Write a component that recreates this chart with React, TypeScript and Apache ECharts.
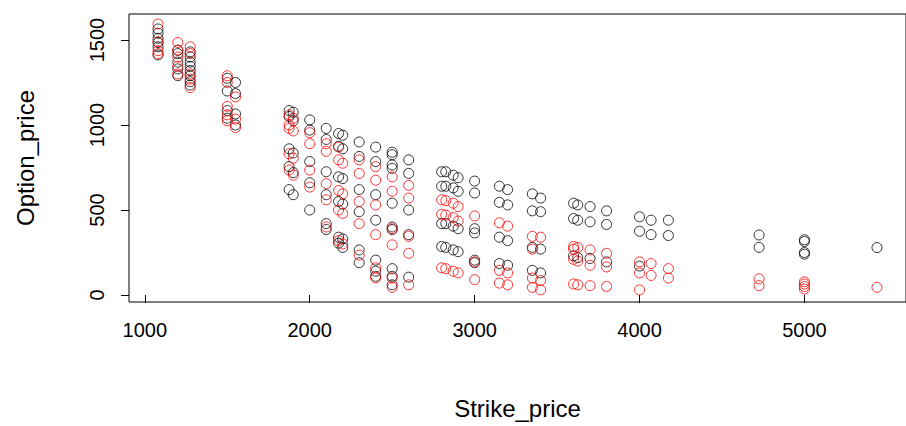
import React, { useEffect, useRef } from "react";
import * as echarts from "echarts";

// Black points: [strike, option prices at that strike]
const blackStrikes = [1080, 1200, 1275, 1500, 1550, 1875, 1900, 2000, 2100, 2175, 2200, 2300, 2400, 2500, 2600, 2800, 2825, 2870, 2900, 3000, 3150, 3200, 3350, 3400, 3600, 3625, 3700, 3800, 4000, 4070, 4175, 4725, 5000, 5440];
const blackPrices = [
  [1565, 1540, 1510, 1485, 1460, 1412],
  [1440, 1420, 1370, 1330, 1290],
  [1430, 1400, 1370, 1345, 1320, 1290, 1255, 1235],
  [1275, 1200, 1085, 1040],
  [1250, 1185, 1065, 1000],
  [1085, 1050, 860, 755, 620],
  [1075, 1025, 835, 720, 590],
  [1030, 970, 785, 660, 500],
  [980, 915, 725, 590, 420, 385],
  [950, 875, 695, 550, 340, 305],
  [940, 860, 685, 535, 330, 280],
  [900, 815, 620, 490, 265, 190],
  [870, 785, 590, 440, 205, 140, 110],
  [840, 825, 765, 745, 540, 400, 385, 155, 110, 60],
  [795, 715, 500, 355, 105],
  [725, 640, 420, 285],
  [725, 640, 420, 280],
  [705, 630, 405, 265],
  [690, 610, 390, 255],
  [670, 600, 390, 365, 205, 190],
  [640, 545, 340, 185],
  [620, 530, 320, 175],
  [595, 495, 280, 145],
  [570, 490, 270, 130],
  [540, 450, 230],
  [530, 440, 220],
  [520, 430, 215],
  [495, 415, 195],
  [460, 375, 170],
  [440, 355],
  [440, 350],
  [353, 280],
  [325, 315, 250, 240],
  [279],
];

// Red points
const redStrikes = [1080, 1200, 1275, 1500, 1550, 1875, 1900, 2000, 2100, 2175, 2200, 2300, 2400, 2500, 2600, 2800, 2825, 2870, 2900, 3000, 3150, 3200, 3350, 3400, 3600, 3625, 3700, 3800, 4000, 4070, 4175, 4725, 5000, 5440];
const redPrices = [
  [1594, 1490, 1437, 1420],
  [1485, 1440, 1400, 1345, 1300],
  [1460, 1420, 1300, 1270, 1220],
  [1290, 1250, 1110, 1060, 1025],
  [1165, 1035, 985],
  [1060, 1000, 980, 830, 735],
  [1040, 965, 805, 705],
  [955, 890, 735, 635],
  [890, 845, 655, 560, 400],
  [870, 795, 615, 500, 320],
  [775, 595, 480, 300],
  [795, 715, 550, 420, 235],
  [755, 675, 530, 355, 160, 100],
  [695, 610, 390, 295, 100, 45],
  [645, 570, 345, 245, 60],
  [560, 475, 160],
  [555, 470, 155],
  [540, 455, 140],
  [520, 435, 130],
  [465, 195, 90],
  [425, 145, 70],
  [405, 130, 60],
  [345, 270, 100, 45],
  [340, 85, 30],
  [285, 270, 210, 65],
  [280, 200, 60],
  [265, 175, 55],
  [245, 165, 50],
  [195, 130, 30],
  [185, 115],
  [155, 100],
  [95, 55],
  [78, 65, 50, 35],
  [45],
];

const xTicks = [1000, 2000, 3000, 4000, 5000];
const yTicks = [0, 500, 1000, 1500];

function toPairs(strikes: number[], prices: number[][]) {
  const out: number[][] = [];
  strikes.forEach((s, i) => prices[i].forEach((p) => out.push([s, p])));
  return out;
}

const FONT = "Liberation Sans, Arial, sans-serif";

export default function App() {
  const ref = useRef<HTMLDivElement>(null);
  useEffect(() => {
    const chart = echarts.init(ref.current!, null, { renderer: "svg" });
    const xMin = 904;
    const pxPerX = 0.1666;
    const gridW = 785;
    const xMax = xMin + gridW / pxPerX;
    const pxPerY = 0.17;
    const gridTop = 14;
    const gridH = 288;
    const yMax = (295 - gridTop) / pxPerY;
    const yMin = -(gridTop + gridH - 295) / pxPerY;
    chart.setOption({
      animation: false,
      backgroundColor: "#ffffff",
      grid: {
        left: 129,
        top: gridTop,
        width: gridW,
        height: gridH,
        show: true,
        borderColor: "#000",
        borderWidth: 1,
        backgroundColor: "transparent",
      },
      xAxis: {
        type: "value",
        min: xMin,
        max: xMax,
        name: "Strike_price",
        nameLocation: "middle",
        nameGap: 94,
        nameTextStyle: { fontFamily: FONT, fontSize: 24, color: "#000" },
        axisLine: { show: false },
        axisTick: { show: true, length: 8, inside: false, customValues: xTicks, lineStyle: { color: "#000", width: 1 } },
        axisLabel: {
          show: true,
          margin: 18,
          customValues: xTicks,
          formatter: (v: number) => String(v),
          fontFamily: FONT,
          fontSize: 20,
          color: "#000",
        },
        splitLine: { show: false },
      },
      yAxis: {
        type: "value",
        min: yMin,
        max: yMax,
        name: "Option_price",
        nameLocation: "middle",
        nameGap: 92,
        nameRotate: 90,
        nameTextStyle: { fontFamily: FONT, fontSize: 24, color: "#000" },
        axisLine: { show: false },
        axisTick: { show: true, length: 8, inside: false, customValues: yTicks, lineStyle: { color: "#000", width: 1 } },
        axisLabel: {
          show: true,
          margin: 22,
          rotate: 90,
          customValues: yTicks,
          formatter: (v: number) => String(v),
          fontFamily: FONT,
          fontSize: 20,
          color: "#000",
        },
        splitLine: { show: false },
      },
      series: [
        {
          type: "scatter",
          data: toPairs(blackStrikes, blackPrices),
          symbol: "circle",
          symbolSize: 10,
          itemStyle: { color: "rgba(0,0,0,0)", borderColor: "#000", borderWidth: 1 },
          silent: true,
        },
        {
          type: "scatter",
          data: toPairs(redStrikes, redPrices),
          symbol: "circle",
          symbolSize: 10,
          itemStyle: { color: "rgba(0,0,0,0)", borderColor: "#ff0000", borderWidth: 1 },
          silent: true,
        },
      ],
    });
    return () => chart.dispose();
  }, []);
  return (
    <div
      ref={ref}
      style={{ position: "fixed", left: 0, top: 0, width: 906, height: 426, background: "#fff" }}
    />
  );
}
